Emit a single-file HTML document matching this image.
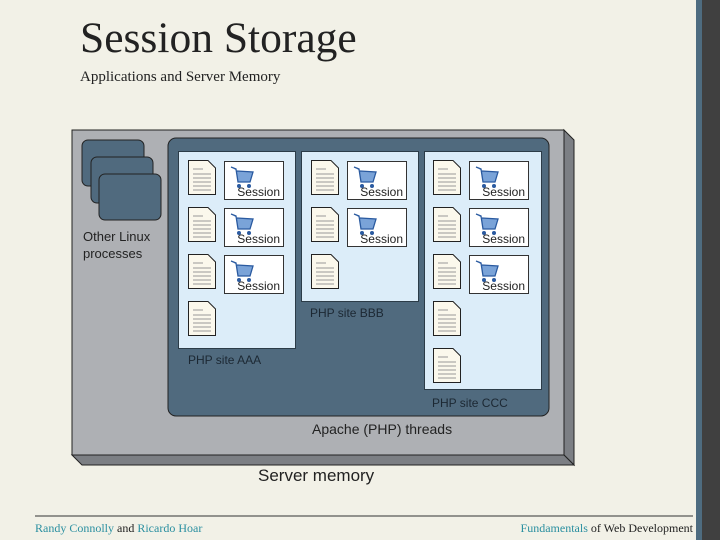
<!DOCTYPE html>
<html><head><style>
body{margin:0;width:720px;height:540px;background:#f2f1e7;position:relative;overflow:hidden;font-family:"Liberation Sans",sans-serif}
.a{position:absolute}
.doc{position:absolute;width:28px;height:35px}
.ses{position:absolute;width:60px;height:39px;background:#fff;border:1px solid #333;box-sizing:border-box}
.ses span{position:absolute;right:3px;bottom:0px;font-size:12px;color:#222}
.panel{position:absolute;background:#dcedf9;border:1px solid #2c3c48;box-sizing:border-box}
.lbl{position:absolute;font-size:12px;color:#1c2833}
</style></head><body>
<div class="a" style="left:80px;top:13px;font:43.5px 'Liberation Serif',serif;color:#222">Session Storage</div>
<div class="a" style="left:80px;top:69px;font:15px 'Liberation Serif',serif;color:#222">Applications and Server Memory</div>
<div class="a" style="left:696px;top:0;width:6px;height:540px;background:#4e6c80"></div>
<div class="a" style="left:702px;top:0;width:18px;height:540px;background:#404040"></div>

<svg class="a" style="left:0;top:0" width="720" height="540">
<polygon points="564,130 574,140 574,465 564,455" fill="#7c7f84" stroke="#222" stroke-width="1"/>
<polygon points="72,455 564,455 574,465 82,465" fill="#7c7f84" stroke="#222" stroke-width="1"/>
<rect x="72" y="130" width="492" height="325" fill="#aeb0b4" stroke="#222" stroke-width="1"/>
<rect x="168" y="138" width="381" height="278" rx="8" fill="#506a7e" stroke="#222"/>
<rect x="82" y="140" width="62" height="46" rx="6" fill="#506a7e" stroke="#222"/>
<rect x="91" y="157" width="62" height="46" rx="6" fill="#506a7e" stroke="#222"/>
<rect x="99" y="174" width="62" height="46" rx="6" fill="#506a7e" stroke="#222"/>
<line x1="35" y1="516" x2="693" y2="516" stroke="#333" stroke-width="1"/>
</svg>
<div class="a" style="left:83px;top:228px;font-size:13px;line-height:17px;color:#222">Other Linux<br>processes</div>

<div class="panel" style="left:178px;top:151px;width:118px;height:198px"></div>
<div class="panel" style="left:301px;top:151px;width:118px;height:151px"></div>
<div class="panel" style="left:424px;top:151px;width:118px;height:239px"></div>
<div class="lbl" style="left:188px;top:353px">PHP site AAA</div>
<div class="lbl" style="left:310px;top:306px">PHP site BBB</div>
<div class="lbl" style="left:432px;top:396px">PHP site CCC</div>
<div class="a" style="left:312px;top:421px;font-size:14px;color:#222">Apache (PHP) threads</div>
<div class="a" style="left:258px;top:466px;font-size:17px;color:#222">Server memory</div>

<svg width="0" height="0" style="position:absolute"><defs>
<g id="d"><path d="M0.5,0.5 H20 L27.5,8 V34.5 H0.5 Z" fill="#fbf8ec" stroke="#222"/><path d="M5,9h10M5,14h18M5,18h18M5,22h18M5,26h18M5,30h18" stroke="#999" stroke-width="1"/></g>
<g id="c"><path d="M3,3 L8,5 L10,18 L22,18 L25,8 L9,7" fill="#7aa3d8" stroke="#2a5aa0" stroke-width="1.3"/><circle cx="11" cy="22" r="2" fill="#2a5aa0"/><circle cx="21" cy="22" r="2" fill="#2a5aa0"/></g>
</defs></svg>

<div id="docs"></div>
<script>
var h='';
var cols=[[188,224,4,3],[311,347,3,2],[433,469,5,3]];
var ys=[160,207,254,301,348];
cols.forEach(function(c){
 for(var i=0;i<c[2];i++){
  h+='<svg class="doc" style="left:'+c[0]+'px;top:'+ys[i]+'px" width="28" height="35"><use href="#d"/></svg>';
  if(i<c[3]) h+='<div class="ses" style="left:'+c[1]+'px;top:'+(ys[i]+1)+'px"><svg style="position:absolute;left:3px;top:2px" width="28" height="26"><use href="#c"/></svg><span>Session</span></div>';
 }
});
document.getElementById('docs').innerHTML=h;
</script>

<div class="a" style="left:35px;top:521px;font:12px 'Liberation Serif',serif;color:#222"><span style="color:#2a8fa0">Randy Connolly</span> and <span style="color:#2a8fa0">Ricardo Hoar</span></div>
<div class="a" style="right:27px;top:521px;font:12px 'Liberation Serif',serif;color:#222"><span style="color:#2a8fa0">Fundamentals</span> of Web Development</div>
</body></html>
